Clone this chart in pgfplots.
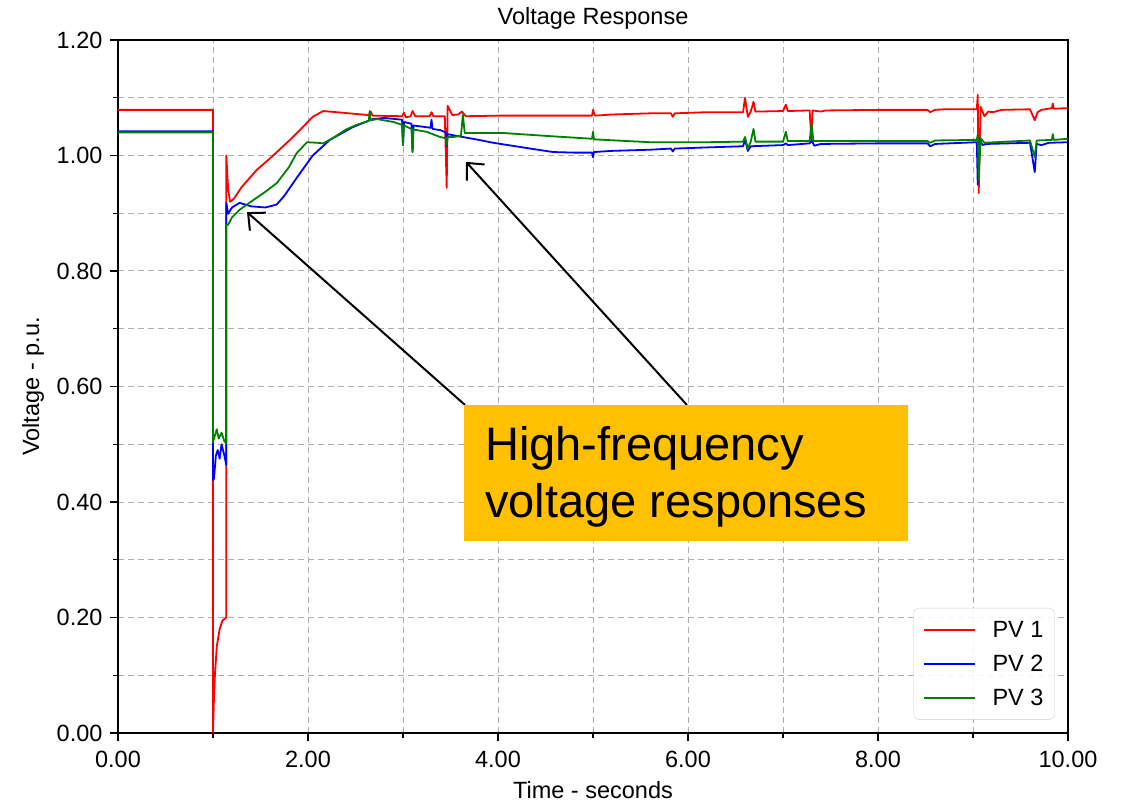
\documentclass[border=0pt]{standalone}
\usepackage{fontspec}
\setmainfont{Liberation Sans}
\usepackage{pgfplots}
\pgfplotsset{compat=1.18}
\usetikzlibrary{arrows.meta}
\definecolor{pvred}{HTML}{FF0000}
\definecolor{pvblue}{HTML}{0000FF}
\definecolor{pvgreen}{HTML}{008000}
\definecolor{callout}{HTML}{FFC000}
\definecolor{gridgray}{HTML}{AFAFAF}

\begin{document}
\begin{tikzpicture}
\useasboundingbox (0,0) rectangle (1124pt,804pt);
\begin{axis}[
  at={(118pt,71pt)}, anchor=south west,
  scale only axis, width=950pt, height=693pt,
  font=\fontsize{23.5}{28}\selectfont,
  xmin=0, xmax=10, ymin=0, ymax=1.2,
  xtick={0,2,...,10}, ytick={0,0.2,...,1.2},
  minor x tick num=1, minor y tick num=1,
  xtick pos=left, ytick pos=left, tick align=outside,
  major tick length=8pt, minor tick length=5pt,
  every tick/.style={black, line width=1.2pt},
  axis line style={black, line width=1.6pt},
  grid=both,
  major grid style={gridgray, line width=1pt, dash pattern=on 6pt off 4pt},
  minor grid style={gridgray, line width=1pt, dash pattern=on 6pt off 4pt},
  /pgf/number format/.cd, fixed, fixed zerofill, precision=2, assume math mode=true, /pgfplots/.cd,
  xticklabel style={yshift=-7pt},
  yticklabel style={xshift=-4pt},
  title={Voltage Response},
  title style={at={(axis description cs:0.5,1)}, anchor=base, yshift=9pt},
  xlabel={Time - seconds},
  xlabel style={at={(axis description cs:0.5,0)}, anchor=base, yshift=-65pt},
  ylabel={Voltage - p.u.},
  ylabel style={at={(axis description cs:-0.083,0.5)}, anchor=base, rotate=0},
  legend style={at={(0.986,0.019)}, anchor=south east, draw=black!20,
    rounded corners=5pt, fill=white, fill opacity=0.85, text opacity=1,
    row sep=12pt, inner xsep=9pt, inner ysep=11pt,
    font=\fontsize{23.5}{28}\selectfont},
  legend cell align=left,
  legend image code/.code={\draw[#1] (0pt,0pt) -- (51pt,0pt); \path (66pt,0pt);},
  every axis plot/.append style={line width=1.8pt, line join=round},
]
% PV 1
\addplot[pvred] coordinates {
(0,1.079)(1.0,1.079)(1.0,0.0)(1.01,0.06)(1.02,0.10)(1.04,0.15)(1.07,0.18)(1.10,0.195)(1.14,0.20)
(1.14,1.00)(1.16,0.94)(1.18,0.92)(1.22,0.925)(1.3,0.945)(1.46,0.975)(1.6,0.995)(1.81,1.027)
(1.95,1.05)(2.05,1.067)(2.16,1.077)(2.3,1.075)(2.5,1.072)(2.64,1.070)(2.66,1.076)(2.68,1.069)
(2.99,1.068)(3.01,1.074)(3.03,1.066)(3.08,1.068)(3.10,1.077)(3.13,1.068)(3.28,1.068)(3.30,1.075)
(3.32,1.068)(3.44,1.068)(3.46,0.944)(3.47,1.086)(3.52,1.070)(3.58,1.071)(3.62,1.076)(3.66,1.068)
(4.0,1.069)(4.99,1.069)(5.0,1.079)(5.02,1.069)(5.2,1.071)(5.6,1.073)(5.82,1.073)(5.84,1.067)
(5.86,1.073)(6.2,1.075)(6.58,1.075)(6.60,1.100)(6.63,1.067)(6.66,1.076)(6.69,1.093)(6.71,1.076)
(7.0,1.077)(7.03,1.088)(7.05,1.077)(7.28,1.078)(7.30,1.024)(7.31,1.078)(7.40,1.076)(7.45,1.078)
(8.0,1.079)(8.52,1.079)(8.55,1.075)(8.60,1.079)(8.70,1.080)(9.04,1.080)(9.05,1.105)(9.06,0.935)
(9.08,1.084)(9.12,1.068)(9.16,1.076)(9.21,1.075)(9.3,1.079)(9.6,1.080)(9.65,1.061)(9.68,1.075)
(9.72,1.079)(9.83,1.082)(9.84,1.090)(9.85,1.081)(10,1.082)};
\addlegendentry{PV 1}
% PV 2
\addplot[pvblue] coordinates {
(0,1.042)(1.0,1.042)(1.0,0.438)(1.01,0.44)(1.03,0.48)(1.05,0.49)(1.07,0.475)(1.09,0.50)(1.12,0.48)
(1.14,0.464)(1.14,0.918)(1.16,0.899)(1.2,0.91)(1.28,0.918)(1.4,0.912)(1.55,0.910)(1.67,0.915)
(1.75,0.930)(1.88,0.961)(2.05,1.000)(2.23,1.027)(2.47,1.049)(2.68,1.063)(2.8,1.065)(2.99,1.062)
(3.0,1.018)(3.01,1.058)(3.09,1.055)(3.10,1.006)(3.11,1.052)(3.2,1.050)(3.29,1.048)(3.30,1.062)
(3.31,1.046)(3.39,1.044)(3.45,1.040)(3.46,1.016)(3.47,1.037)(3.53,1.035)(3.63,1.032)(3.8,1.027)
(3.95,1.022)(4.3,1.013)(4.58,1.006)(4.8,1.005)(4.99,1.005)(5.0,0.997)(5.01,1.006)(5.2,1.008)
(5.6,1.010)(5.82,1.012)(5.84,1.007)(5.86,1.012)(6.2,1.014)(6.58,1.016)(6.60,1.028)(6.63,1.008)
(6.66,1.016)(7.0,1.018)(7.03,1.021)(7.05,1.018)(7.28,1.021)(7.30,1.026)(7.33,1.017)(7.40,1.020)
(8.0,1.021)(8.52,1.021)(8.55,1.016)(8.60,1.020)(9.04,1.023)(9.05,0.950)(9.06,1.030)(9.1,1.018)
(9.14,1.020)(9.6,1.022)(9.65,0.971)(9.67,1.020)(9.72,1.018)(9.8,1.022)(10,1.023)};
\addlegendentry{PV 2}
% PV 3
\addplot[pvgreen] coordinates {
(0,1.040)(1.0,1.040)(1.0,0.504)(1.02,0.515)(1.04,0.526)(1.06,0.510)(1.09,0.520)(1.12,0.505)
(1.14,0.502)(1.14,0.880)(1.16,0.880)(1.2,0.893)(1.28,0.906)(1.4,0.920)(1.55,0.937)(1.67,0.952)
(1.8,0.980)(1.88,1.004)(1.99,1.023)(2.1,1.022)(2.16,1.021)(2.26,1.030)(2.4,1.045)(2.51,1.053)
(2.64,1.060)(2.65,1.077)(2.66,1.061)(2.73,1.063)(2.9,1.058)(2.99,1.053)(3.0,1.018)(3.01,1.052)
(3.09,1.046)(3.10,1.006)(3.11,1.045)(3.25,1.041)(3.39,1.032)(3.45,1.030)(3.46,1.018)(3.47,1.032)
(3.53,1.032)(3.61,1.034)(3.63,1.070)(3.65,1.039)(4.05,1.039)(4.5,1.034)(4.99,1.029)(5.0,1.041)
(5.01,1.028)(5.6,1.023)(6.2,1.023)(6.58,1.024)(6.60,1.032)(6.63,1.012)(6.66,1.024)(6.69,1.046)
(6.71,1.024)(7.0,1.024)(7.03,1.041)(7.05,1.025)(7.28,1.025)(7.30,1.055)(7.32,1.025)(8.0,1.025)
(8.52,1.025)(8.55,1.022)(8.60,1.026)(9.04,1.027)(9.05,1.036)(9.06,0.958)(9.08,1.030)(9.12,1.022)
(9.6,1.026)(9.65,0.997)(9.67,1.026)(9.83,1.027)(9.84,1.037)(9.85,1.027)(10,1.029)};
\addlegendentry{PV 3}
% callout
\draw[black, line width=2pt, -{Straight Barb[length=13pt, width=24pt, line width=2pt]}]
  (axis cs:3.653,0.568) -- (axis cs:1.358,0.902);
\draw[black, line width=2pt, -{Straight Barb[length=13pt, width=24pt, line width=2pt]}]
  (axis cs:5.989,0.568) -- (axis cs:3.663,0.989);
\fill[callout] (axis cs:3.642,0.3325) rectangle (axis cs:8.316,0.568);
\node[anchor=base west, inner sep=0pt, font=\fontsize{47}{56}\selectfont] at (axis cs:3.863,0.471) {High-frequency};
\node[anchor=base west, inner sep=0pt, font=\fontsize{47}{56}\selectfont] at (axis cs:3.863,0.3723) {voltage responses};
\end{axis}
\end{tikzpicture}
\end{document}
